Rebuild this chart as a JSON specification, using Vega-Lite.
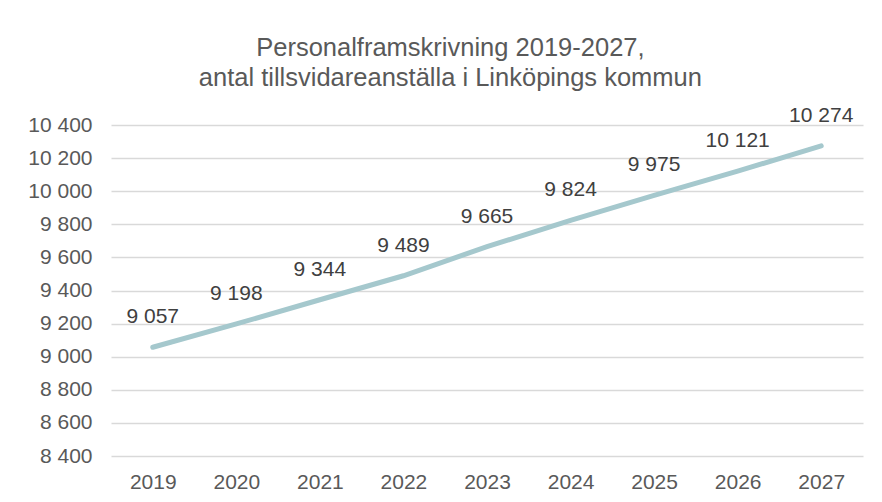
{
  "$schema": "https://vega.github.io/schema/vega-lite/v6.json",
  "width": 752,
  "height": 331,
  "autosize": "none",
  "padding": {"left": 111, "top": 125, "right": 19, "bottom": 46},
  "background": "white",
  "config": {
    "font": "Liberation Sans",
    "view": {"stroke": null},
    "locale": {
      "number": {"decimal": ",", "thousands": " ", "grouping": [3], "currency": ["", " kr"]}
    }
  },
  "title": {
    "text": ["Personalframskrivning 2019-2027,", "antal tillsvidareanställa i Linköpings kommun"],
    "fontSize": 25.5,
    "fontWeight": "normal",
    "color": "#595959",
    "lineHeight": 30,
    "anchor": "middle",
    "frame": "bounds",
    "offset": 13,
    "dx": 5
  },
  "data": {
    "values": [
      {"year": "2019", "value": 9057},
      {"year": "2020", "value": 9198},
      {"year": "2021", "value": 9344},
      {"year": "2022", "value": 9489},
      {"year": "2023", "value": 9665},
      {"year": "2024", "value": 9824},
      {"year": "2025", "value": 9975},
      {"year": "2026", "value": 10121},
      {"year": "2027", "value": 10274}
    ]
  },
  "encoding": {
    "x": {
      "field": "year",
      "type": "ordinal",
      "scale": {"type": "point", "padding": 0.5},
      "axis": {
        "title": null,
        "labelAngle": 0,
        "labelFontSize": 21,
        "labelColor": "#595959",
        "labelPadding": 15,
        "ticks": false,
        "domain": false,
        "grid": false
      }
    },
    "y": {
      "field": "value",
      "type": "quantitative",
      "scale": {"domain": [8400, 10400], "nice": false, "zero": false},
      "axis": {
        "title": null,
        "values": [8400, 8600, 8800, 9000, 9200, 9400, 9600, 9800, 10000, 10200, 10400],
        "format": ",.0f",
        "labelFontSize": 21,
        "labelColor": "#595959",
        "labelPadding": 19,
        "ticks": false,
        "domain": false,
        "gridColor": "#D9D9D9",
        "gridWidth": 1.3
      }
    }
  },
  "layer": [
    {
      "mark": {"type": "line", "color": "#A5C8CD", "strokeWidth": 5, "strokeCap": "round"}
    },
    {
      "mark": {"type": "text", "fontSize": 21, "color": "#404040", "baseline": "middle", "dy": -30},
      "encoding": {
        "text": {"field": "value", "type": "quantitative", "format": ",.0f"}
      }
    }
  ]
}
